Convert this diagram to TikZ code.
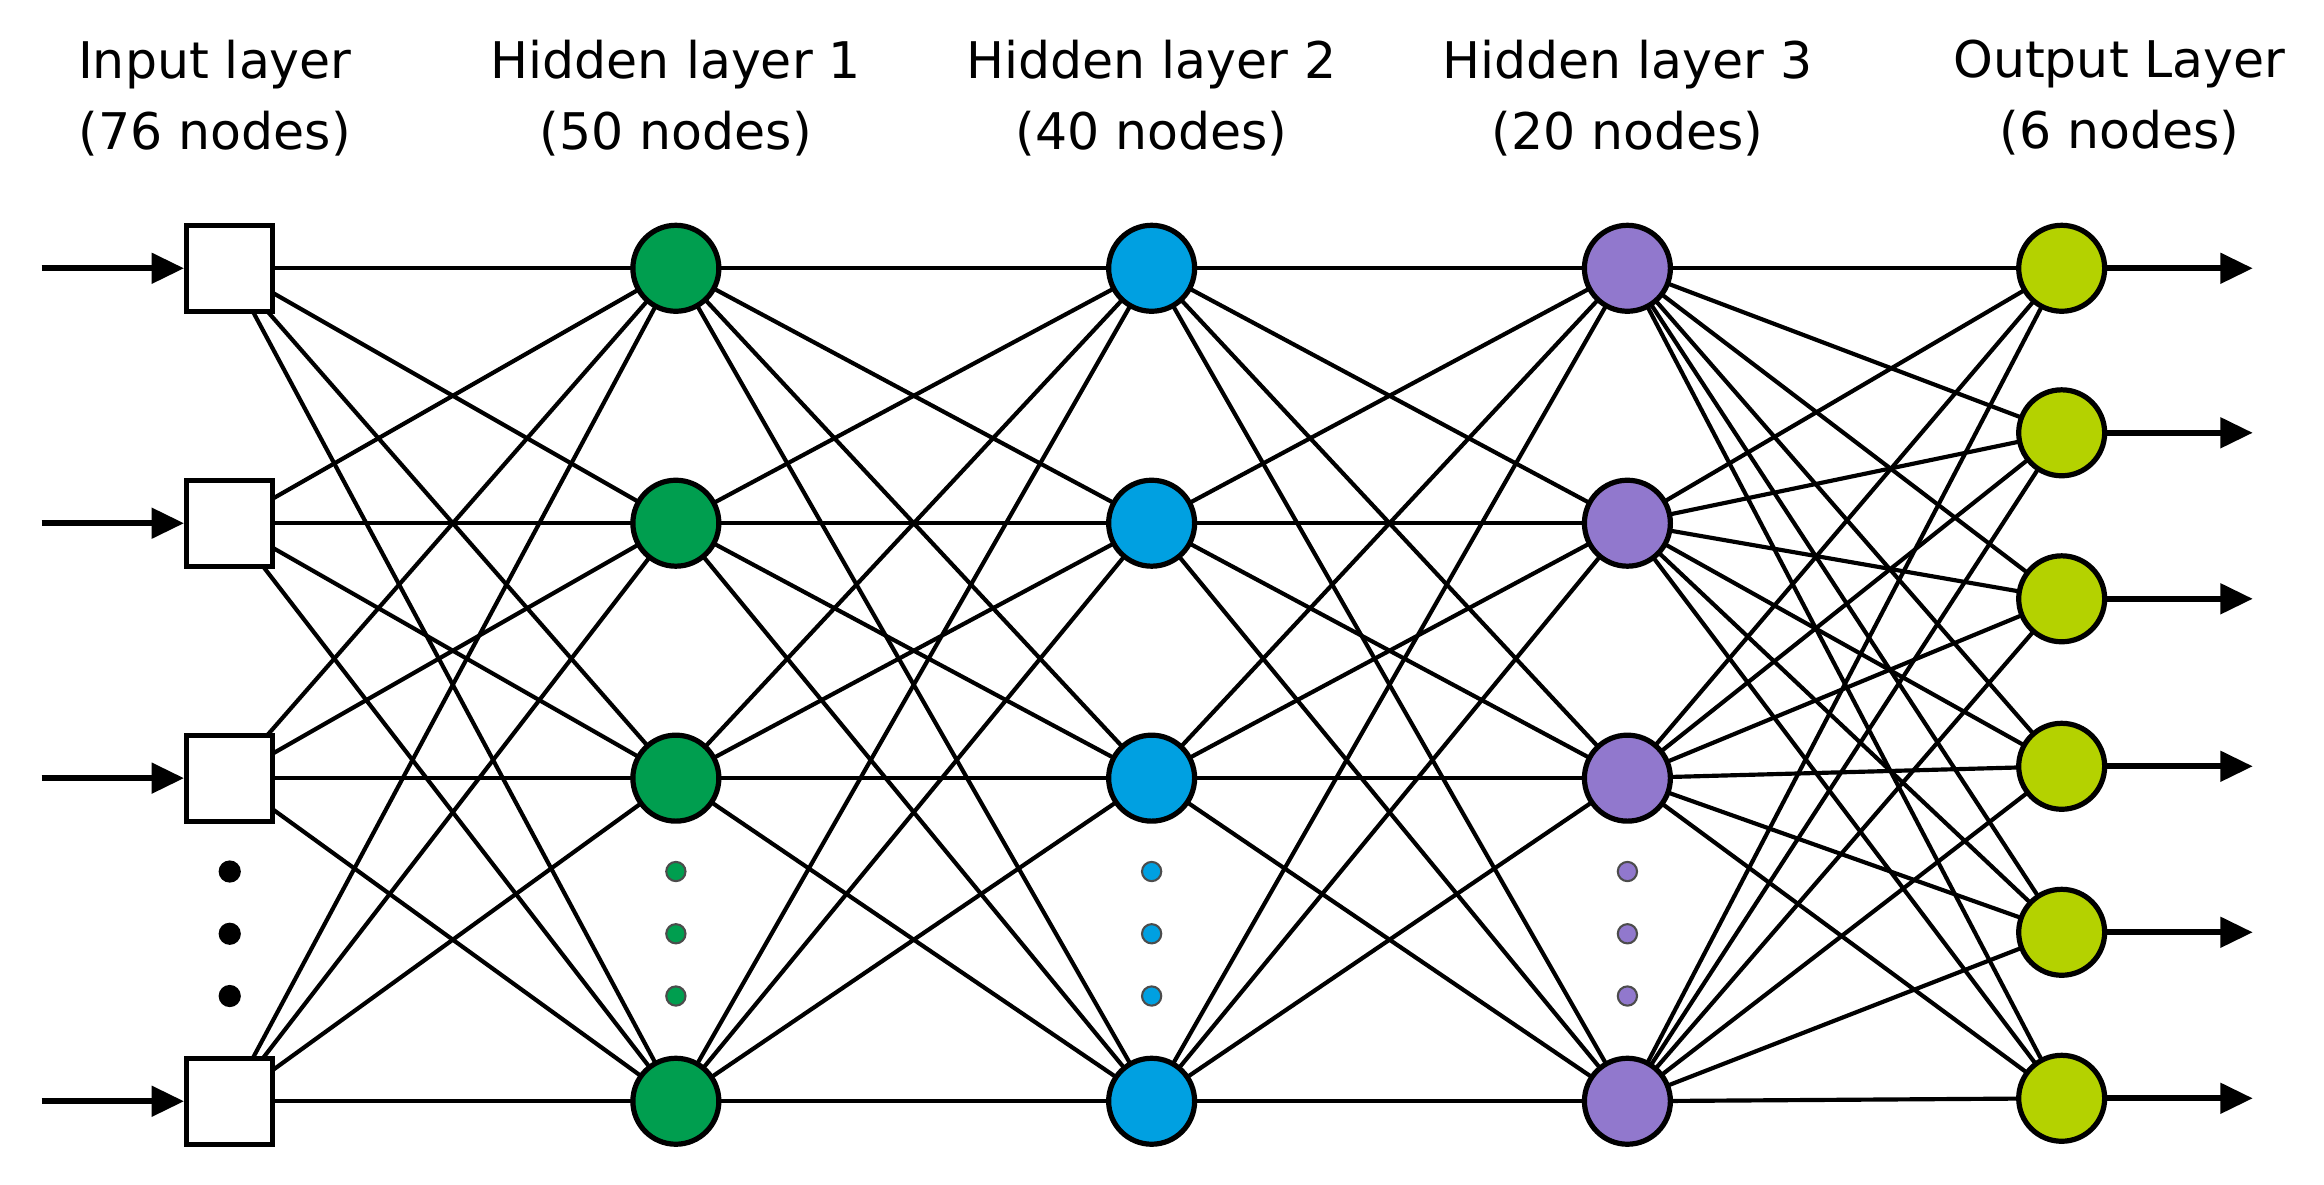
\documentclass[tikz,border=0pt]{standalone}
\usepackage{fontspec}
\setmainfont{DejaVu Sans}
\usetikzlibrary{arrows.meta,backgrounds}
\definecolor{cg}{RGB}{0,158,79}
\definecolor{cb}{RGB}{0,160,225}
\definecolor{cp}{RGB}{145,120,205}
\definecolor{cl}{RGB}{180,210,0}
\begin{document}
\begin{tikzpicture}[
  sq/.style={draw,line width=1pt,fill=white,minimum size=0.58cm,inner sep=0pt},
  cir/.style={draw,line width=1pt,circle,minimum size=0.58cm,inner sep=0pt,fill=#1},
  dot/.style 2 args={circle,fill=#1,draw=black!70,line width=0.4pt,minimum size=#2,inner sep=0pt},
  edge/.style={line width=0.8pt},
  arr/.style={line width=1.2pt,-{Triangle[length=0.22cm,width=0.2cm]}},
  lab/.style={align=center,font=\fontsize{9.7}{13.6}\selectfont}]
\useasboundingbox (0,0) rectangle (15.68,-7.99);
% labels
\node[lab] (l0) at (1.45,-0.66) {Input layer\\(76 nodes)};
\node[lab] (l1) at (4.56,-0.66) {Hidden layer 1\\(50 nodes)};
\node[lab] (l2) at (7.77,-0.66) {Hidden layer 2\\(40 nodes)};
\node[lab] (l3) at (10.98,-0.66) {Hidden layer 3\\(20 nodes)};
\node[lab] (l4) at (14.30,-0.66) {Output Layer\\(6 nodes)};
% nodes
\foreach \i/\y in {1/1.81,2/3.53,3/5.25,4/7.43}{
  \node[sq] (a\i) at (1.55,-\y) {};
  \node[cir=cg] (b\i) at (4.56,-\y) {};
  \node[cir=cb] (c\i) at (7.77,-\y) {};
  \node[cir=cp] (d\i) at (10.98,-\y) {};
  \coordinate (s\i) at (0.28,-\y);
  \draw[arr] (s\i) -- (a\i);
}
\foreach \j/\y in {1/1.81,2/2.92,3/4.04,4/5.17,5/6.29,6/7.41}{
  \node[cir=cl] (e\j) at (13.91,-\y) {};
  \coordinate (t\j) at (15.2,-\y);
  \draw[arr] (e\j) -- (t\j);
}
% dots
\foreach \k/\y in {1/5.88,2/6.30,3/6.72}{
  \node[circle,fill=black,minimum size=0.15cm,inner sep=0pt] (p\k) at (1.55,-\y) {};
  \node[dot={cg}{0.13cm}] (q\k) at (4.56,-\y) {};
  \node[dot={cb}{0.13cm}] (r\k) at (7.77,-\y) {};
  \node[dot={cp}{0.13cm}] (u\k) at (10.98,-\y) {};
}
% edges
\begin{scope}[on background layer]
\foreach \i in {1,...,4}{\foreach \k in {1,...,4}{
  \draw[edge] (a\i.center) -- (b\k.center);
  \draw[edge] (b\i.center) -- (c\k.center);
  \draw[edge] (c\i.center) -- (d\k.center);
}}
\foreach \i in {1,...,4}{\foreach \j in {1,...,6}{
  \draw[edge] (d\i.center) -- (e\j.center);
}}
\end{scope}
\end{tikzpicture}
\end{document}
